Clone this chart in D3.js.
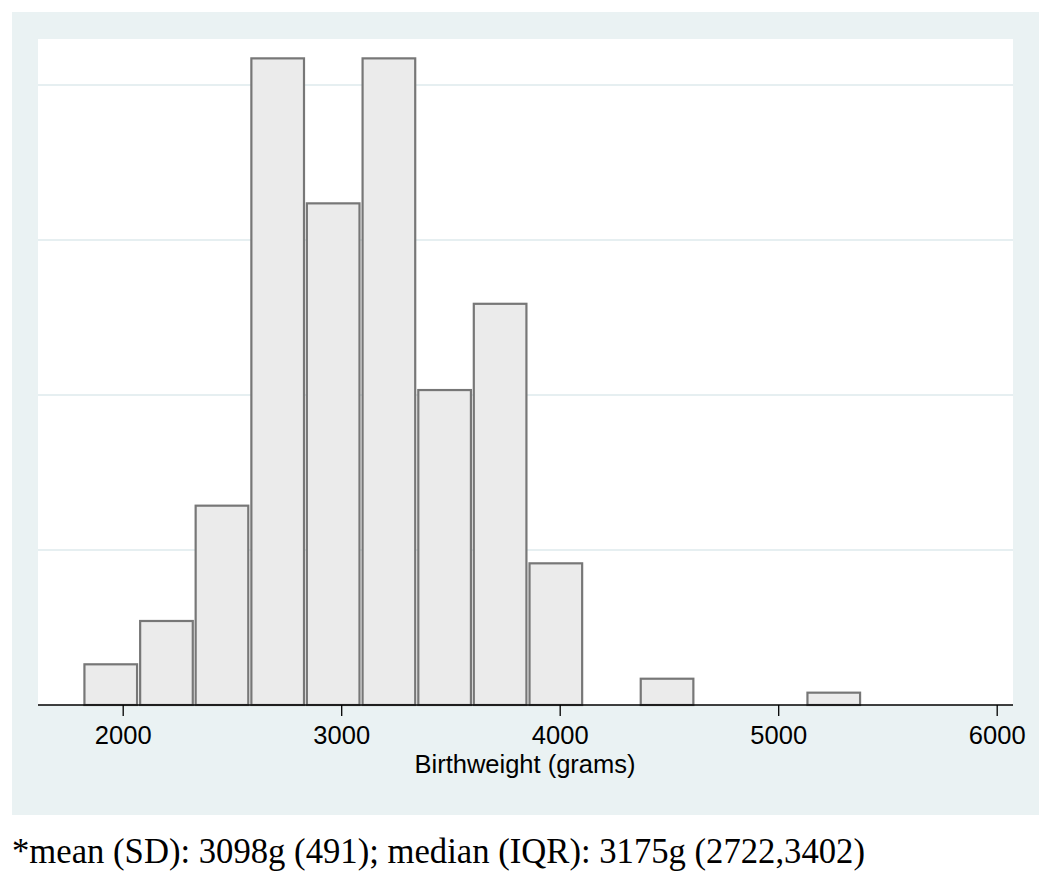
<!DOCTYPE html>
<html>
<head>
<meta charset="utf-8">
<script src="https://cdn.jsdelivr.net/npm/d3@7/dist/d3.min.js"></script>
<style>
  html, body { margin: 0; padding: 0; background: #ffffff; }
  svg { display: block; }
</style>
</head>
<body>
<svg id="chart" width="1050" height="888"></svg>
<script>
// ---- data (density, in units of 1e-4 per gram) ----
const binLower = [1818, 2073, 2327, 2582, 2836, 3091, 3346, 3600, 3855, 4109, 4364, 4618, 4873, 5127];
const binWidth = 254.6;
const density = [0.538, 1.097, 2.585, 8.357, 6.486, 8.357, 4.077, 5.19, 1.841, 0, 0.352, 0, 0, 0.172];
const xTicks = [2000, 3000, 4000, 5000, 6000];
const yGrid = [2, 4, 6, 8];
const xTitle = "Birthweight (grams)";
const footnote = "*mean (SD): 3098g (491); median (IQR): 3175g (2722,3402)";

const svg = d3.select("#chart");
const panelColor = "#eaf2f3";

// outer graph region
svg.append("rect").attr("x", 12).attr("y", 12).attr("width", 1027).attr("height", 803).attr("fill", panelColor);

const plot = { left: 38, right: 1013, top: 39, bottom: 705 };
svg.append("rect").attr("x", plot.left).attr("y", plot.top)
  .attr("width", plot.right - plot.left).attr("height", plot.bottom - plot.top).attr("fill", "#ffffff");

const x = d3.scaleLinear().domain([2000, 6000]).range([122.7, 996.7]);
const y = d3.scaleLinear().domain([0, 8.594]).range([plot.bottom, plot.top]);

// gridlines
svg.append("g").selectAll("line").data(yGrid).join("line")
  .attr("x1", plot.left).attr("x2", plot.right)
  .attr("y1", d => y(d)).attr("y2", d => y(d))
  .attr("stroke", "#e6eff1").attr("stroke-width", 2);

// bars
const bins = binLower.map((b, i) => ({ x0: b, x1: b + binWidth, v: density[i] })).filter(d => d.v > 0);
svg.append("g").selectAll("rect").data(bins).join("rect")
  .attr("x", d => x(d.x0) + 1.5)
  .attr("width", d => x(d.x1) - x(d.x0) - 3)
  .attr("y", d => y(d.v) + 1)
  .attr("height", d => y(0) - y(d.v) - 1)
  .attr("fill", "#ebebeb")
  .attr("stroke", "#777777")
  .attr("stroke-width", 2.2);

// x axis
const axis = d3.axisBottom(x).tickValues(xTicks).tickFormat(d3.format("d")).tickSize(11).tickPadding(6);
const gx = svg.append("g").attr("transform", `translate(0,${plot.bottom})`).call(axis);
gx.select(".domain").remove();
gx.append("line").attr("x1", plot.left).attr("x2", plot.right).attr("y1", 0).attr("y2", 0)
  .attr("stroke", "#000").attr("stroke-width", 1.5);
gx.selectAll(".tick line").attr("stroke", "#000").attr("stroke-width", 1.3);
gx.selectAll(".tick text")
  .attr("fill", "#000")
  .style("font-family", "'Liberation Sans', Arial, sans-serif")
  .style("font-size", "25.5px")
  .attr("dy", null)
  .attr("y", 39);

svg.append("text")
  .attr("x", 525).attr("y", 773)
  .attr("text-anchor", "middle")
  .style("font-family", "'Liberation Sans', Arial, sans-serif")
  .style("font-size", "25.5px")
  .attr("fill", "#000")
  .text(xTitle);

svg.append("text")
  .attr("x", 12).attr("y", 863)
  .style("font-family", "'Liberation Serif', 'Times New Roman', serif")
  .style("font-size", "35px")
  .attr("textLength", 853)
  .attr("lengthAdjust", "spacingAndGlyphs")
  .attr("fill", "#000")
  .text(footnote);
</script>
</body>
</html>
